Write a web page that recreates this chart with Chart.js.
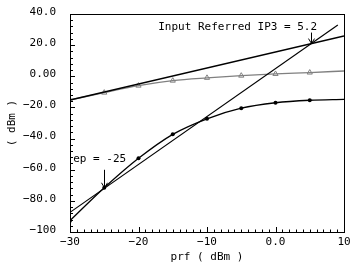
<!DOCTYPE html>
<html><head><meta charset="utf-8">
<script src="https://cdn.jsdelivr.net/npm/chart.js@4.4.1/dist/chart.umd.min.js"></script>
<style>html,body{margin:0;padding:0;background:#fff;}#wrap{width:358px;height:269px;position:relative;}</style>
</head><body><div id="wrap"><canvas id="c" width="358" height="269"></canvas></div>
<script>
const prf = [-30, -25, -20, -15, -10, -5, 0, 5, 10];
const fundamental = [-15.2, -10.5, -6.0, -2.8, -1.0, 0.4, 1.5, 2.4, 3.4];
const thirdOrder = [-92.7, -71.6, -52.7, -37.3, -27.3, -20.5, -17.0, -15.4, -14.8];
const fundLineX = [-30, 10];
const fundLineY = [-15.2, 25.9];
const im3LineX = [-30, 9.1];
const im3LineY = [-87.4, 33.0];
const ip3Point = [5.2, 21.0];
const tangentPoint = [-25, -71.6];
const ip3Label = 'Input Referred IP3 = 5.2';
const tangentLabel = 'ep = -25';
const xTickValues = [-30, -20, -10, 0, 10];
const xTickLabels = ['\u221230', '\u221220', '\u221210', '0.0', '10'];
const yTickValues = [40, 20, 0, -20, -40, -60, -80, -100];
const yTickLabels = ['40.0', '20.0', '0.00', '\u221220.0', '\u221240.0', '\u221260.0', '\u221280.0', '\u2212100'];
const xTitle = 'prf ( dBm )';
const yTitle = '( dBm )';

const MONO = '"DejaVu Sans Mono", "Liberation Mono", monospace';
const GRAY = '#808080';

function pts(xs, ys) { return xs.map((v, i) => ({x: v, y: ys[i]})); }

const decor = {
  id: 'decor',
  afterDatasetsDraw(chart) {
    const {ctx, chartArea: a, scales: {x, y}} = chart;
    ctx.save();
    ctx.strokeStyle = '#000';
    ctx.lineWidth = 1;
    ctx.strokeRect(a.left + 0.5, a.top + 0.5, a.right - a.left, a.bottom - a.top);
    x.ticks.forEach(t => {
      const px = Math.round(x.getPixelForValue(t.value)) + 0.5;
      const major = xTickValues.includes(t.value);
      ctx.beginPath(); ctx.moveTo(px, a.bottom); ctx.lineTo(px, a.bottom - (major ? 5 : 2.5)); ctx.stroke();
    });
    y.ticks.forEach(t => {
      const py = Math.round(y.getPixelForValue(t.value)) + 0.5;
      const major = yTickValues.includes(t.value);
      ctx.beginPath(); ctx.moveTo(a.left, py); ctx.lineTo(a.left + (major ? 5 : 3), py); ctx.stroke();
    });
    function arrow(px, tip, len) {
      ctx.beginPath();
      ctx.moveTo(px, tip - len); ctx.lineTo(px, tip);
      ctx.moveTo(px - 3, tip - 5); ctx.lineTo(px, tip); ctx.lineTo(px + 3, tip - 5);
      ctx.stroke();
    }
    ctx.fillStyle = '#000';
    ctx.font = '11px ' + MONO;
    ctx.textBaseline = 'middle';
    const ux = x.getPixelForValue(ip3Point[0]), uy = y.getPixelForValue(ip3Point[1]);
    arrow(Math.round(ux) + 0.5, uy, 11);
    ctx.textAlign = 'right';
    ctx.fillText(ip3Label, ux + 6, uy - 16);
    const lx = x.getPixelForValue(tangentPoint[0]), ly = y.getPixelForValue(tangentPoint[1]);
    arrow(Math.round(lx) + 0.5, ly, 18);
    ctx.textAlign = 'left';
    ctx.fillText(tangentLabel, lx - 31, ly - 29);
    ctx.restore();
  }
};

new Chart(document.getElementById('c'), {
  type: 'scatter',
  data: {
    datasets: [
      {
        data: pts(fundLineX, fundLineY), showLine: true, borderColor: '#000', borderWidth: 1.6,
        pointRadius: 0, tension: 0
      },
      {
        data: pts(im3LineX, im3LineY), showLine: true, borderColor: '#000', borderWidth: 1.2,
        pointRadius: 0, tension: 0
      },
      {
        data: pts(prf, fundamental), showLine: true, borderColor: GRAY, borderWidth: 1.3,
        pointStyle: 'triangle', pointRadius: c => c.dataIndex === prf.length - 1 ? 0 : 3,
        pointBorderColor: GRAY, pointBackgroundColor: 'rgba(255,255,255,0)', pointBorderWidth: 1,
        cubicInterpolationMode: 'monotone'
      },
      {
        data: pts(prf, thirdOrder), showLine: true, borderColor: '#000', borderWidth: 1.3,
        pointStyle: 'circle', pointRadius: c => c.dataIndex === prf.length - 1 ? 0 : 2,
        pointBorderColor: '#000', pointBackgroundColor: '#000', pointBorderWidth: 0,
        cubicInterpolationMode: 'monotone'
      }
    ]
  },
  options: {
    responsive: false,
    animation: false,
    devicePixelRatio: 1,
    layout: {padding: {top: 14, right: 14, left: 0, bottom: 0}},
    plugins: {legend: {display: false}, tooltip: {enabled: false}},
    scales: {
      x: {
        type: 'linear', min: -30, max: 10,
        grid: {display: false, drawTicks: false}, border: {display: false},
        ticks: {
          stepSize: 1, autoSkip: false, maxRotation: 0, padding: 4, color: '#000',
          font: {family: MONO, size: 11},
          callback: v => { const i = xTickValues.indexOf(v); return i >= 0 ? xTickLabels[i] : ''; }
        },
        title: {display: true, text: xTitle, color: '#000', font: {family: MONO, size: 11}, padding: {top: 0, bottom: 5}},
        afterFit: s => { s.height = 37; }
      },
      y: {
        type: 'linear', min: -100, max: 40,
        grid: {display: false, drawTicks: true, tickLength: 7}, border: {display: false},
        ticks: {
          stepSize: 4, autoSkip: false, padding: 7, labelOffset: -2, color: '#000',
          font: {family: MONO, size: 11},
          callback: v => { const i = yTickValues.indexOf(v); return i >= 0 ? yTickLabels[i] : ''; }
        },
        title: {display: true, text: yTitle, color: '#000', font: {family: MONO, size: 11}, padding: {top: 6, bottom: 0}},
        afterFit: s => { s.width = 70; }
      }
    }
  },
  plugins: [decor]
});
</script>
</body></html>
